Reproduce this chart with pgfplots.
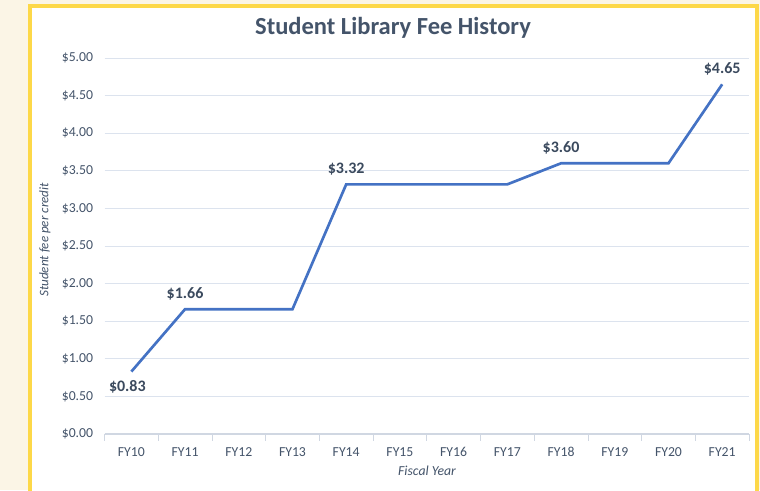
\documentclass[border=0pt]{standalone}
\usepackage{pgfplots}
\pgfplotsset{compat=1.18}
\usepackage{fontspec}
\setmainfont{Carlito}
\definecolor{txt}{HTML}{44546A}
\definecolor{lbl}{HTML}{3B4A5E}
\definecolor{ln}{HTML}{4472C4}
\definecolor{gridc}{HTML}{DCE3EE}
\definecolor{axc}{HTML}{D0D7E2}
\definecolor{cream}{HTML}{FBF5E6}
\definecolor{frame}{HTML}{FDD848}
\begin{document}
\begin{tikzpicture}[x=0.75pt,y=0.75pt]
\useasboundingbox (0,0) rectangle (760,490);
\clip (0,0) rectangle (760,490);
\fill[cream] (0,0) rectangle (760,490);
\fill[white] (30,-10) rectangle (756,483);
\draw[frame, line width=3pt] (29.5,-10) -- (29.5,483.5) -- (756.5,483.5) -- (756.5,-10);
\node[font=\bfseries\fontsize{18.4}{20}\selectfont, text=txt] at (393,462) {Student Library Fee History};
\node[font=\itshape\fontsize{9.8}{11}\selectfont, text=txt, rotate=90] at (45,250) {Student fee per credit};
\node[font=\itshape\fontsize{10.3}{12}\selectfont, text=txt] at (427,19) {Fiscal Year};
\begin{axis}[
  at={(78.375pt,42pt)}, anchor=south west,
  scale only axis, width=483.4pt, height=282pt,
  xmin=-0.5, xmax=11.5, ymin=0, ymax=5,
  axis line style={draw=none},
  axis x line*=bottom, axis y line*=left,
  xtick={0,...,11},
  xticklabels={FY10,FY11,FY12,FY13,FY14,FY15,FY16,FY17,FY18,FY19,FY20,FY21},
  minor xtick={-0.5,0.5,...,11.5},
  major tick length=0pt,
  minor tick length=5pt,
  minor tick style={axc, line width=0.6pt},
  every tick/.style={axc},
  xtick align=outside,
  ytick={0,0.5,...,5},
  yticklabels={\$0.00,\$0.50,\$1.00,\$1.50,\$2.00,\$2.50,\$3.00,\$3.50,\$4.00,\$4.50,\$5.00},
  ymajorgrids, major grid style={gridc, line width=0.7pt},
  tick label style={font=\fontsize{10.3}{12}\selectfont, text=txt},
  yticklabel style={xshift=-5pt},
  xticklabel style={yshift=-6.5pt, text height=1.5ex, text depth=0.3ex},
  clip=false,
]
\draw[axc, line width=0.8pt] (axis cs:-0.5,0) -- (axis cs:11.5,0);
\addplot[ln, line width=2pt] coordinates {
 (0,0.83) (1,1.66) (2,1.66) (3,1.66) (4,3.32) (5,3.32) (6,3.32) (7,3.32) (8,3.60) (9,3.60) (10,3.60) (11,4.65)};
\addplot[draw=none, mark=none, nodes near coords, point meta=explicit symbolic,
  every node near coord/.style={font=\bfseries\fontsize{12}{14}\selectfont, text=lbl, anchor=south, yshift=3pt}]
 coordinates {(1,1.66)[\$1.66] (4,3.32)[\$3.32] (8,3.60)[\$3.60] (11,4.65)[\$4.65]};
\addplot[draw=none, mark=none, nodes near coords, point meta=explicit symbolic,
  every node near coord/.style={font=\bfseries\fontsize{12}{14}\selectfont, text=lbl, anchor=north, xshift=-3pt, yshift=-3pt}]
 coordinates {(0,0.83)[\$0.83]};
\end{axis}
\end{tikzpicture}
\end{document}
